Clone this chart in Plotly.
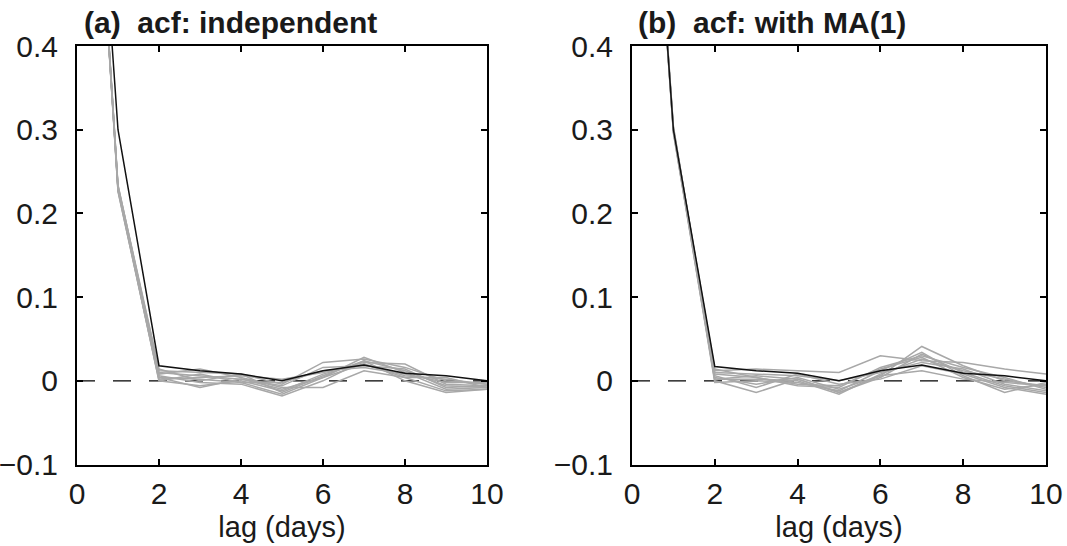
import plotly.graph_objects as go

lags = list(range(0, 11))

# Panel (a): acf, independent
obs_a = [1, 0.300, 0.018, 0.012, 0.008, 0.000, 0.012, 0.019, 0.009, 0.006, 0.000]
sims_a = [
    [1, 0.232, 0.012, 0.010, 0.008, -0.004, 0.022, 0.026, 0.016, 0.000, -0.004],
    [1, 0.228, 0.004, 0.002, -0.002, -0.016, 0.004, 0.028, 0.010, -0.010, -0.008],
    [1, 0.230, 0.000, -0.006, 0.000, -0.012, 0.008, 0.022, 0.020, -0.004, -0.006],
    [1, 0.234, 0.008, 0.014, 0.004, -0.008, -0.008, 0.012, 0.004, -0.012, -0.010],
    [1, 0.226, 0.002, 0.004, 0.006, 0.002, 0.010, 0.020, 0.006, 0.002, -0.004],
    [1, 0.231, 0.006, -0.002, -0.004, -0.018, 0.000, 0.024, 0.012, -0.006, -0.008],
    [1, 0.229, 0.010, 0.006, 0.002, -0.006, 0.016, 0.018, 0.014, -0.008, -0.006],
    [1, 0.233, 0.014, 0.000, 0.008, -0.014, 0.006, 0.024, 0.000, -0.014, -0.010],
    [1, 0.227, 0.000, 0.008, -0.002, -0.002, 0.012, 0.016, 0.008, -0.002, -0.002],
    [1, 0.230, 0.004, -0.008, 0.002, -0.010, 0.004, 0.020, 0.004, 0.004, -0.008],
]

# Panel (b): acf, with MA(1)
obs_b = [1, 0.300, 0.017, 0.012, 0.009, 0.000, 0.012, 0.019, 0.009, 0.006, 0.000]
sims_b = [
    [1, 0.298, 0.012, 0.014, 0.012, 0.010, 0.030, 0.024, 0.022, 0.014, 0.008],
    [1, 0.302, 0.004, -0.004, 0.004, -0.010, 0.006, 0.041, 0.018, 0.000, -0.006],
    [1, 0.296, 0.000, -0.014, 0.002, -0.014, 0.004, 0.032, 0.010, -0.006, -0.014],
    [1, 0.304, 0.008, 0.004, -0.004, -0.006, 0.014, 0.028, 0.004, -0.010, -0.004],
    [1, 0.299, 0.002, 0.002, 0.000, -0.016, 0.008, 0.026, 0.012, 0.002, -0.008],
    [1, 0.301, 0.010, 0.008, 0.006, 0.000, 0.010, 0.022, 0.014, -0.004, -0.012],
    [1, 0.297, -0.002, 0.000, -0.002, -0.012, 0.012, 0.034, 0.006, -0.014, -0.002],
    [1, 0.303, 0.006, -0.008, 0.008, -0.004, 0.002, 0.018, 0.008, -0.008, -0.016],
    [1, 0.300, 0.014, 0.004, -0.006, -0.008, 0.016, 0.030, 0.016, 0.004, -0.010],
    [1, 0.298, 0.002, 0.006, 0.002, -0.014, 0.006, 0.012, 0.002, -0.002, -0.006],
]

titles = ["(a)  acf: independent", "(b)  acf: with MA(1)"]
x_ticks = [0, 2, 4, 6, 8, 10]
y_ticks = [-0.1, 0, 0.1, 0.2, 0.3, 0.4]
y_tick_text = ["\u22120.1", "0", "0.1", "0.2", "0.3", "0.4"]

W, H = 1067, 546
FONT = "Liberation Sans, Arial, sans-serif"
TXT = "#1a1a1a"

fig = go.Figure()

panels = [(obs_a, sims_a, "x", "y"), (obs_b, sims_b, "x2", "y2")]
for obs, sims, xa, ya in panels:
    fig.add_trace(go.Scatter(x=[0, 10], y=[0, 0], mode="lines", xaxis=xa, yaxis=ya,
                             line=dict(color="black", width=1.3, dash="18px,18px"),
                             showlegend=False, hoverinfo="skip"))
    for s in sims:
        fig.add_trace(go.Scatter(x=lags, y=s, mode="lines", xaxis=xa, yaxis=ya,
                                 line=dict(color="#a8a8a8", width=1.5),
                                 showlegend=False))
    fig.add_trace(go.Scatter(x=lags, y=obs, mode="lines", xaxis=xa, yaxis=ya,
                             line=dict(color="#111111", width=1.5),
                             showlegend=False))

axis_common = dict(showline=True, linecolor="black", linewidth=2, mirror="ticks",
                   ticks="inside", ticklen=6, tickwidth=1.5, tickcolor="black",
                   showgrid=False, zeroline=False, automargin=False,
                   tickfont=dict(family=FONT, size=30, color=TXT))

xdoms = [[77 / W, 487 / W], [632 / W, 1046 / W]]
ydom = [1 - 464.5 / H, 1 - 46 / H]

for i, (xn, yn) in enumerate([("xaxis", "yaxis"), ("xaxis2", "yaxis2")]):
    xa = dict(axis_common, domain=xdoms[i], range=[0, 10], tickvals=x_ticks,
              ticklabelstandoff=1,
              title=dict(text="lag (days)", font=dict(family=FONT, size=29, color=TXT),
                         standoff=8),
              anchor="y" if i == 0 else "y2")
    ya = dict(axis_common, domain=ydom, range=[-0.1, 0.4], tickvals=y_ticks,
              ticktext=y_tick_text, ticklabelstandoff=11,
              anchor="x" if i == 0 else "x2")
    fig.update_layout(**{xn: xa, yn: ya})

title_x = [82, 636]
for i, t in enumerate(titles):
    fig.add_annotation(text="<b>" + t + "</b>", xref="paper", yref="paper",
                       x=title_x[i] / W, y=1 - 4 / H, xanchor="left", yanchor="top",
                       showarrow=False, font=dict(family=FONT, size=30, color=TXT))

fig.update_layout(width=W, height=H, margin=dict(l=0, r=0, t=0, b=0),
                  paper_bgcolor="white", plot_bgcolor="white")

fig.write_html("out.html")
